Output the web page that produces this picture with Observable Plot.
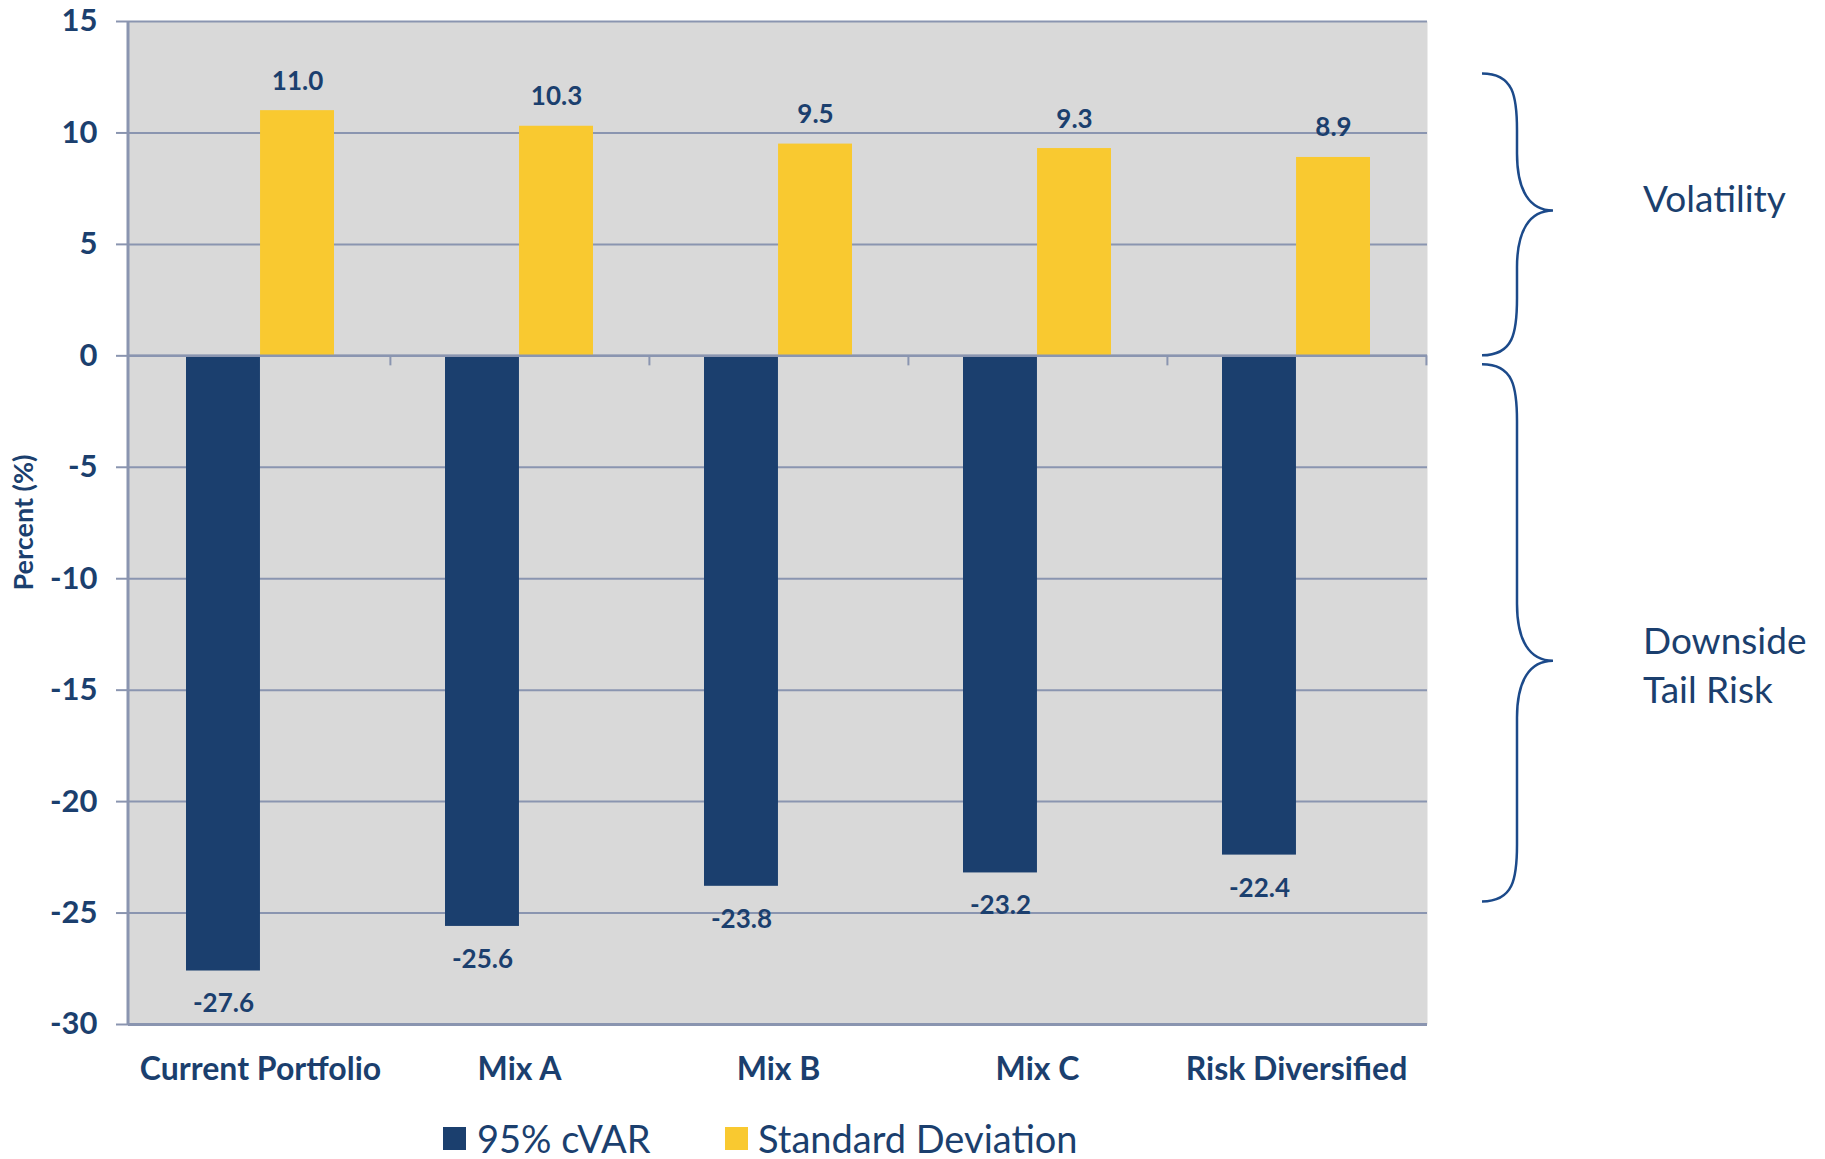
<!DOCTYPE html>
<html>
<head>
<meta charset="utf-8">
<script src="https://cdn.jsdelivr.net/npm/d3@7"></script>
<script src="https://cdn.jsdelivr.net/npm/@observablehq/plot@0.6"></script>
<style>
  html, body { margin: 0; padding: 0; background: #fff; }
  #chart svg { display: block; }
  #legend { position: relative; width: 1825px; height: 59px; font-family: Lato, sans-serif; color: #1B3F6E; }
  .sw { position: absolute; width: 23px; height: 23px; top: 27px; }
  .lt { position: absolute; font-size: 38px; line-height: 1; top: 19px; white-space: nowrap; }
</style>
</head>
<body>
<div id="chart"></div>
<div id="legend"></div>
<script>
// ---- data ----
const categories = ["Current Portfolio", "Mix A", "Mix B", "Mix C", "Risk Diversified"];
const cvarValues = [-27.6, -25.6, -23.8, -23.2, -22.4];
const stdDevValues = [11.0, 10.3, 9.5, 9.3, 8.9];
const seriesNames = ["95% cVAR", "Standard Deviation"];
const yTicks = [-30, -25, -20, -15, -10, -5, 0, 5, 10, 15];
const yLabel = "Percent (%)";
const braceGroups = [
  { lines: ["Volatility"], top: 12.65, tip: 6.5, bottom: 0, labelY: 7.05 },
  { lines: ["Downside", "Tail Risk"], top: -0.4, tip: -13.7, bottom: -24.5, labelY: -13.9 }
];

// ---- styles ----
const navy = "#1B3F6E";
const yellow = "#F9C930";
const gray = "#D9D9D9";
const gridColor = "#8A95B0";
const braceColor = "#1C4A8A";

const W = 1825, H = 1100;
const mL = 128, mR = 398, mT = 21, mB = 76;
const padInner = 0.43;
const step = (W - mL - mR) / categories.length;
const half = step * (1 - padInner) / 2;

const cvarData = categories.map((c, i) => ({ category: c, value: cvarValues[i] }));
const sdData = categories.map((c, i) => ({ category: c, value: stdDevValues[i] }));

const plot = Plot.plot({
  width: W,
  height: H,
  marginLeft: mL,
  marginRight: mR,
  marginTop: mT,
  marginBottom: mB,
  style: { fontFamily: "Lato, sans-serif", color: navy, background: "#fff" },
  x: { domain: categories, paddingInner: padInner, paddingOuter: padInner / 2, label: null },
  y: { domain: [-30, 15], label: null },
  marks: [
    Plot.frame({ fill: gray, stroke: null }),
    Plot.ruleY(yTicks, { stroke: gridColor, strokeWidth: 2 }),
    Plot.barY(cvarData, { x: "category", y: "value", fill: navy, insetRight: half }),
    Plot.barY(sdData, { x: "category", y: "value", fill: yellow, insetLeft: half }),
    Plot.ruleY([0], { stroke: gridColor, strokeWidth: 2.5 }),
    Plot.ruleY([-30], { stroke: gridColor, strokeWidth: 3 }),
    Plot.ruleX(categories, { x: d => d, y1: 0, y2: -0.45, dx: step / 2, stroke: gridColor, strokeWidth: 2 }),
    Plot.text(sdData, { x: "category", y: "value", text: d => d.value.toFixed(1), dx: half / 2, dy: -21,
      lineAnchor: "bottom", fontSize: 26, fontWeight: "bold", fill: navy }),
    Plot.text(cvarData, { x: "category", y: "value", text: d => d.value.toFixed(1), dx: -half / 2, dy: 23,
      lineAnchor: "top", fontSize: 26, fontWeight: "bold", fill: navy }),
    Plot.axisY({ ticks: yTicks, tickFormat: d => String(d), tickSize: 12, tickPadding: 19,
      stroke: gridColor, strokeWidth: 2, fill: navy, fontSize: 31, fontWeight: "bold", label: null }),
    Plot.axisX({ tickSize: 0, tickPadding: 33, fontSize: 32, fontWeight: "bold", fill: navy, label: null })
  ]
});

document.getElementById("chart").appendChild(plot);

// ---- annotations (left axis line, y label, braces, labels) ----
const y = plot.scale("y");
const svg = d3.select(plot);
svg.append("line")
  .attr("x1", mL).attr("x2", mL)
  .attr("y1", y.apply(15)).attr("y2", y.apply(-30))
  .attr("stroke", gridColor).attr("stroke-width", 3);

svg.append("text")
  .attr("transform", `translate(23,${(y.apply(15) + y.apply(-30)) / 2}) rotate(-90)`)
  .attr("text-anchor", "middle")
  .attr("dy", "0.36em")
  .attr("fill", navy)
  .attr("font-family", "Lato, sans-serif")
  .attr("font-weight", "bold")
  .attr("font-size", 27)
  .text(yLabel);

const xL = 1482, xS = 1517, xT = 1553, c = 57;
function bracePath(yTop, yTip, yBot) {
  const cu = Math.min(c, (yTip - yTop) / 2.2), cl = Math.min(c, (yBot - yTip) / 2.2);
  return `M${xL},${yTop} C${xL + (xS - xL) * 0.9},${yTop} ${xS},${yTop + cu * 0.4} ${xS},${yTop + cu}` +
    ` L${xS},${yTip - cu} C${xS},${yTip - cu * 0.35} ${xS + (xT - xS) * 0.35},${yTip} ${xT},${yTip}` +
    ` M${xT},${yTip} C${xS + (xT - xS) * 0.35},${yTip} ${xS},${yTip + cl * 0.35} ${xS},${yTip + cl}` +
    ` L${xS},${yBot - cl} C${xS},${yBot - cl * 0.4} ${xL + (xS - xL) * 0.9},${yBot} ${xL},${yBot}`;
}
const lineH = 49;
braceGroups.forEach(g => {
  svg.append("path")
    .attr("d", bracePath(y.apply(g.top), y.apply(g.tip), y.apply(g.bottom)))
    .attr("fill", "none").attr("stroke", braceColor).attr("stroke-width", 2.5);
  const cy = y.apply(g.labelY);
  const n = g.lines.length;
  g.lines.forEach((t, i) => {
    svg.append("text")
      .attr("x", 1643)
      .attr("y", cy + (i - (n - 1) / 2) * lineH)
      .attr("dy", "0.36em")
      .attr("text-anchor", "start")
      .attr("fill", navy)
      .attr("font-family", "Lato, sans-serif")
      .attr("font-size", 37)
      .text(t);
  });
});

// ---- legend ----
const legend = document.getElementById("legend");
const legendColors = [navy, yellow];
const swatchX = [443, 725];
const textX = [477, 758];
seriesNames.forEach((name, i) => {
  const sw = document.createElement("div");
  sw.className = "sw";
  sw.style.left = swatchX[i] + "px";
  sw.style.background = legendColors[i];
  legend.appendChild(sw);
  const lt = document.createElement("div");
  lt.className = "lt";
  lt.style.left = textX[i] + "px";
  lt.textContent = name;
  legend.appendChild(lt);
});
</script>
</body>
</html>
